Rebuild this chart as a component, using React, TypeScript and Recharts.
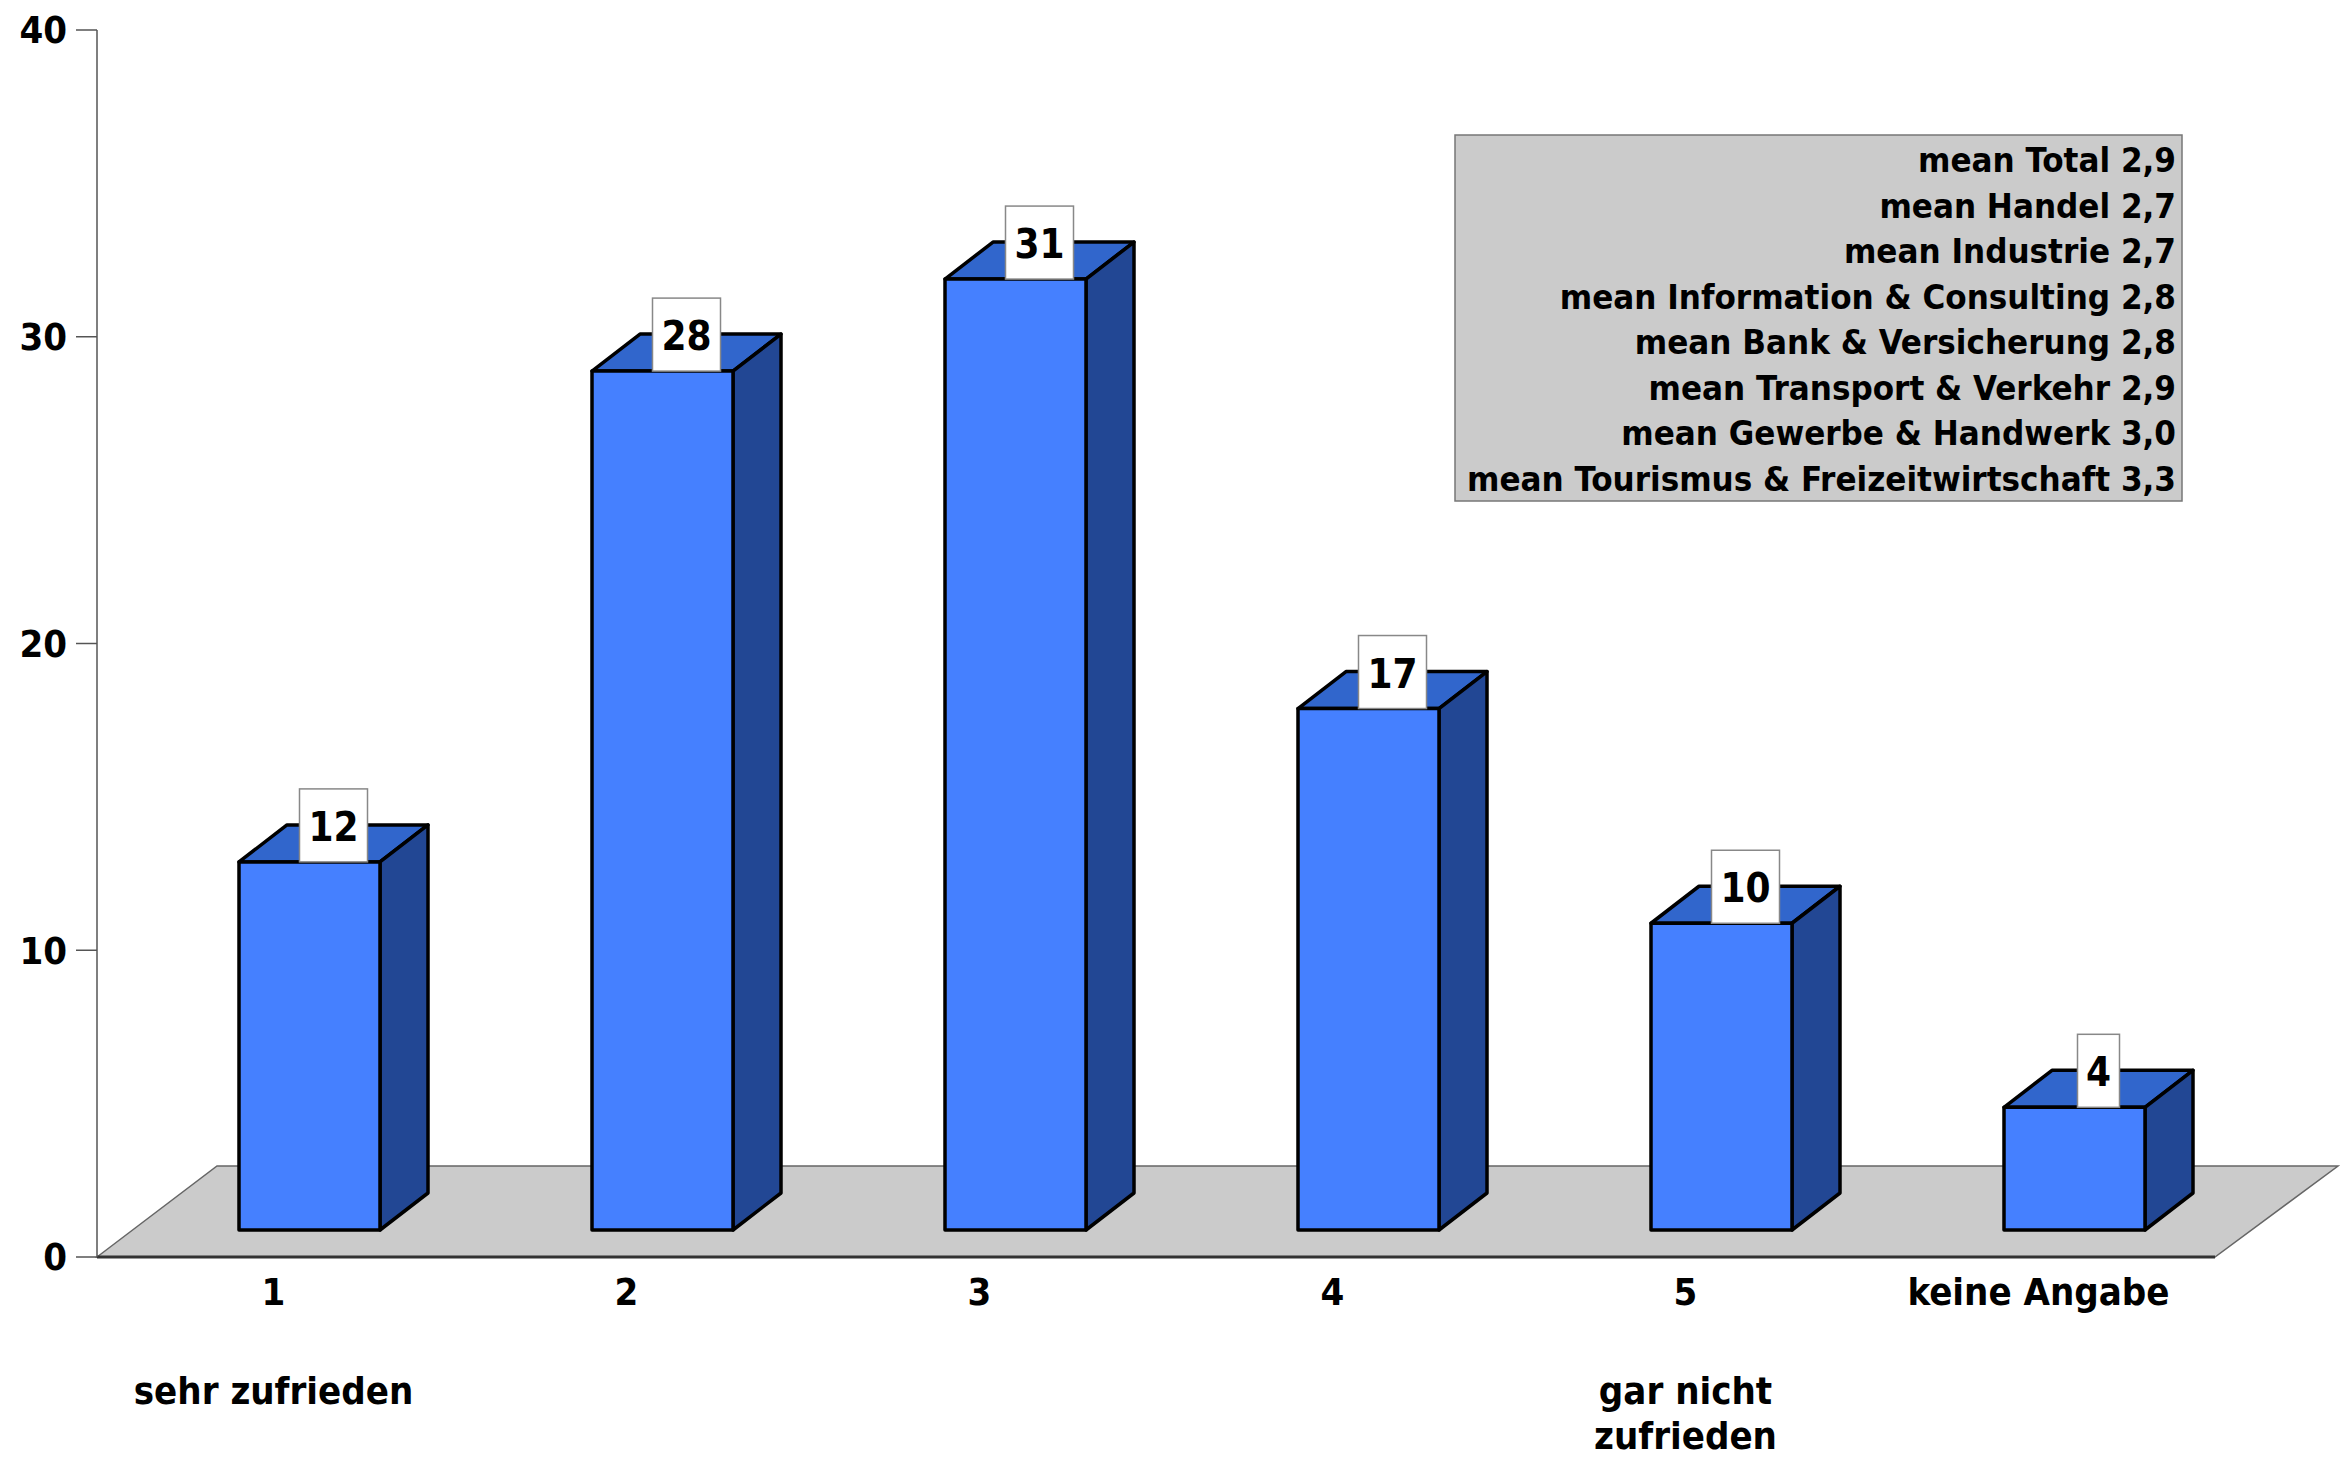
import React from 'react';
import { BarChart, Bar, XAxis, YAxis, LabelList } from 'recharts';

const categories = ['1', '2', '3', '4', '5', 'keine Angabe'];
const subLabels = [['sehr zufrieden'], [], [], [], ['gar nicht', 'zufrieden'], []];
const values = [12, 28, 31, 17, 10, 4];
const yTicks = [0, 10, 20, 30, 40];
const meanLabels = [
  'mean Total',
  'mean Handel',
  'mean Industrie',
  'mean Information & Consulting',
  'mean Bank & Versicherung',
  'mean Transport & Verkehr',
  'mean Gewerbe & Handwerk',
  'mean Tourismus & Freizeitwirtschaft',
];
const meanValues = ['2,9', '2,7', '2,7', '2,8', '2,8', '2,9', '3,0', '3,3'];

const data = categories.map((c, i) => ({ name: c, value: values[i] }));

const W = 2347;
const H = 1457;
const LEFT = 97;
const RIGHT = 2215;
const TOP = 30;
const BOTTOM = 1257;
// floor depth
const FDX = 120;
const FDY = 91;
// bar offset into the floor and bar depth
const SDX = 36;
const SDY = 27;
const BDX = 48;
const BDY = 37;

const font = "'DejaVu Sans Condensed', 'DejaVu Sans', sans-serif";

const Bar3D = (props: any) => {
  const { x, y, width, height } = props;
  const ox = x + SDX;
  const oy = y - SDY;
  const w = width;
  const h = height;
  return (
    <g stroke="#000" strokeWidth={3.5} strokeLinejoin="round">
      <polygon
        points={`${ox},${oy} ${ox + BDX},${oy - BDY} ${ox + w + BDX},${oy - BDY} ${ox + w},${oy}`}
        fill="#3166cc"
      />
      <polygon
        points={`${ox + w},${oy} ${ox + w + BDX},${oy - BDY} ${ox + w + BDX},${oy + h - BDY} ${ox + w},${oy + h}`}
        fill="#224794"
      />
      <rect x={ox} y={oy} width={w} height={h} fill="#4580ff" />
    </g>
  );
};

const ValueBox = (props: any) => {
  const { x, y, width, value } = props;
  const text = String(value);
  const bw = 16 + 26 * text.length;
  const bh = 73;
  const cx = x + SDX + width / 2 + BDX / 2;
  const bottom = y - SDY;
  return (
    <g>
      <rect x={cx - bw / 2} y={bottom - bh} width={bw} height={bh} fill="#fff" stroke="#888" strokeWidth={1.5} />
      <text x={cx} y={bottom - 21} textAnchor="middle" fontFamily={font} fontWeight="bold" fontSize={40} fill="#000">
        {text}
      </text>
    </g>
  );
};

const CategoryTick = (props: any) => {
  const { x, y, payload, index } = props;
  const subs = subLabels[index] || [];
  return (
    <g fontFamily={font} fontWeight="bold" fontSize={38} fill="#000">
      <text x={x} y={y + 48} textAnchor="middle">
        {payload.value}
      </text>
      {subs.map((s: string, i: number) => (
        <text key={i} x={x} y={y + 147 + i * 45} textAnchor="middle">
          {s}
        </text>
      ))}
    </g>
  );
};

export default function App() {
  return (
    <div style={{ position: 'absolute', left: 0, top: 0, width: W, height: H, background: '#fff' }}>
      <svg width={W} height={H} style={{ position: 'absolute', left: 0, top: 0 }}>
        <polygon
          points={`${LEFT},${BOTTOM} ${LEFT + FDX},${BOTTOM - FDY} ${RIGHT + FDX + 3},${BOTTOM - FDY} ${RIGHT},${BOTTOM}`}
          fill="#cbcbcb"
          stroke="#666"
          strokeWidth={1.5}
        />
        <line x1={LEFT} y1={BOTTOM} x2={RIGHT} y2={BOTTOM} stroke="#333" strokeWidth={3} />
      </svg>
      <div style={{ position: 'absolute', left: 0, top: 0 }}>
        <BarChart width={W} height={H} data={data} margin={{ top: TOP, right: W - RIGHT, left: 0, bottom: 0 }}>
          <XAxis
            dataKey="name"
            height={H - BOTTOM}
            axisLine={false}
            tickLine={false}
            tickSize={0}
            tickMargin={0}
            interval={0}
            tick={<CategoryTick />}
          />
          <YAxis
            width={LEFT}
            domain={[0, 40]}
            ticks={yTicks}
            tickSize={21}
            tickMargin={9}
            axisLine={{ stroke: '#555', strokeWidth: 1.5 }}
            tickLine={{ stroke: '#555', strokeWidth: 1.5 }}
            tick={{ fontFamily: font, fontWeight: 'bold', fontSize: 38, fill: '#000' }}
          />
          <Bar dataKey="value" barSize={141} shape={<Bar3D />} isAnimationActive={false}>
            <LabelList dataKey="value" content={<ValueBox />} />
          </Bar>
        </BarChart>
      </div>
      <svg width={W} height={H} style={{ position: 'absolute', left: 0, top: 0, pointerEvents: 'none' }}>
        <rect x={1455} y={135} width={727} height={366} fill="#cbcbcb" stroke="#777" strokeWidth={1.5} />
        {meanLabels.map((m, i) => (
          <text
            key={m}
            x={2176}
            y={172 + i * 45.5}
            textAnchor="end"
            fontFamily={font}
            fontWeight="bold"
            fontSize={34.6}
            fill="#000"
          >
            {`${m} ${meanValues[i]}`}
          </text>
        ))}
      </svg>
    </div>
  );
}
